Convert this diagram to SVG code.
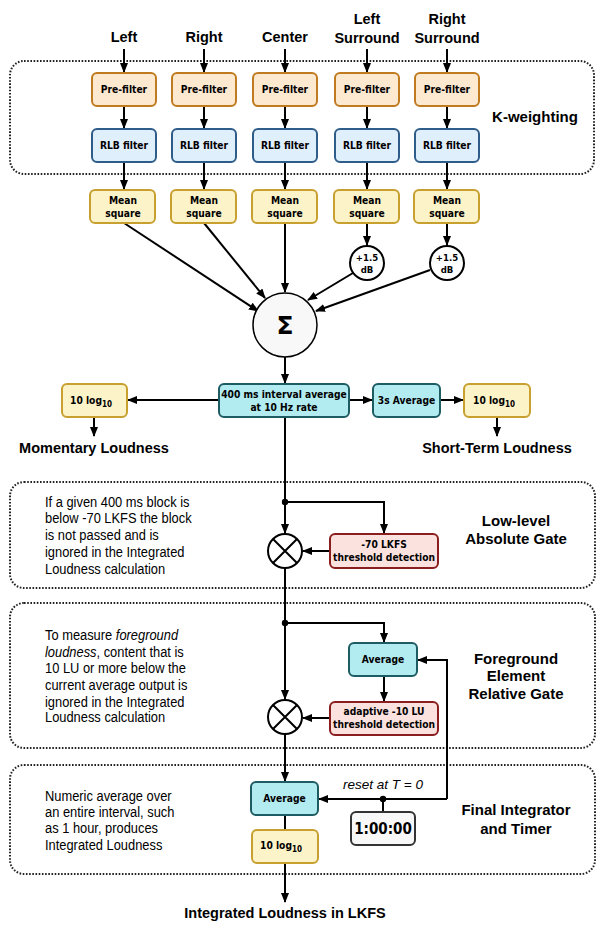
<svg xmlns="http://www.w3.org/2000/svg" width="600" height="935" viewBox="0 0 600 935">
<defs>
<marker id="ah" markerUnits="userSpaceOnUse" markerWidth="10" markerHeight="8" refX="9" refY="4" orient="auto">
<path d="M0,0 L10,4 L0,8 Z" fill="#000"/>
</marker>
<style>
.region{fill:none;stroke:#222;stroke-width:2;stroke-dasharray:1.6 1.6}
.box{stroke-width:2}
.pre{fill:#fde8d0;stroke:#c07a20}
.rlb{fill:#e0effc;stroke:#2f5d8a}
.ms{fill:#fdf3c8;stroke:#c8a030}
.teal{fill:#b2ebf0;stroke:#1d5c63}
.red{fill:#fbe2df;stroke:#8a1e1e}
.timer{fill:#f8f8f8;stroke:#333;stroke-width:2}
.circ{fill:#fff;stroke:#000;stroke-width:2}
.bl{font-family:"DejaVu Sans Condensed","DejaVu Sans",sans-serif;font-weight:bold;font-size:10.2px;text-anchor:middle;fill:#000}
.hd{font-family:"Liberation Sans",Arial,sans-serif;font-weight:bold;font-size:14.5px;text-anchor:middle;fill:#000}
.rg{font-family:"Liberation Sans",Arial,sans-serif;font-weight:bold;font-size:15px;text-anchor:middle;fill:#000}
.desc{font-family:"Liberation Sans",Arial,sans-serif;font-size:14px;fill:#000}
.conn path,.conn line{fill:none;stroke:#000;stroke-width:2}
</style>
</defs>
<rect width="600" height="935" fill="#fff"/>

<g id="regions">
<rect class="region" x="10" y="61" width="584" height="113" rx="14"/>
<rect class="region" x="10" y="482" width="585" height="106" rx="14"/>
<rect class="region" x="10" y="603" width="585" height="145" rx="14"/>
<rect class="region" x="10" y="765" width="585" height="109" rx="14"/>
<text class="rg" x="535" y="122">K-weighting</text>
<text class="rg" x="516" y="526">Low-level</text>
<text class="rg" x="516" y="544">Absolute Gate</text>
<text class="rg" x="516" y="664">Foreground</text>
<text class="rg" x="516" y="681">Element</text>
<text class="rg" x="516" y="699">Relative Gate</text>
<text class="rg" x="516" y="815">Final Integrator</text>
<text class="rg" x="516" y="834">and Timer</text>
</g>

<g id="inputs">
<text class="hd" x="124" y="42">Left</text>
<text class="hd" x="204" y="42">Right</text>
<text class="hd" x="285" y="42">Center</text>
<text class="hd" x="367" y="24">Left</text>
<text class="hd" x="367" y="43">Surround</text>
<text class="hd" x="447" y="24">Right</text>
<text class="hd" x="447" y="43">Surround</text>
</g>

<g id="connectors" class="conn">
<line x1="124" y1="49" x2="124" y2="72" marker-end="url(#ah)"/>
<line x1="204" y1="49" x2="204" y2="72" marker-end="url(#ah)"/>
<line x1="285" y1="49" x2="285" y2="72" marker-end="url(#ah)"/>
<line x1="367" y1="49" x2="367" y2="72" marker-end="url(#ah)"/>
<line x1="447" y1="49" x2="447" y2="72" marker-end="url(#ah)"/>
<line x1="124" y1="106" x2="124" y2="128" marker-end="url(#ah)"/>
<line x1="204" y1="106" x2="204" y2="128" marker-end="url(#ah)"/>
<line x1="285" y1="106" x2="285" y2="128" marker-end="url(#ah)"/>
<line x1="367" y1="106" x2="367" y2="128" marker-end="url(#ah)"/>
<line x1="447" y1="106" x2="447" y2="128" marker-end="url(#ah)"/>
<line x1="124" y1="162" x2="124" y2="189" marker-end="url(#ah)"/>
<line x1="204" y1="162" x2="204" y2="189" marker-end="url(#ah)"/>
<line x1="285" y1="162" x2="285" y2="189" marker-end="url(#ah)"/>
<line x1="367" y1="162" x2="367" y2="189" marker-end="url(#ah)"/>
<line x1="447" y1="162" x2="447" y2="189" marker-end="url(#ah)"/>
<line x1="124" y1="223" x2="258" y2="311" marker-end="url(#ah)"/>
<line x1="204" y1="223" x2="265" y2="298" marker-end="url(#ah)"/>
<line x1="285" y1="223" x2="285" y2="292" marker-end="url(#ah)"/>
<line x1="367" y1="223" x2="367" y2="245" marker-end="url(#ah)"/>
<line x1="447" y1="223" x2="447" y2="245" marker-end="url(#ah)"/>
<line x1="353" y1="273" x2="308" y2="300" marker-end="url(#ah)"/>
<line x1="430" y1="270" x2="316" y2="311" marker-end="url(#ah)"/>
<line x1="285" y1="357" x2="285" y2="383" marker-end="url(#ah)"/>
<line x1="219" y1="400" x2="128" y2="400" marker-end="url(#ah)"/>
<line x1="349" y1="400" x2="372" y2="400" marker-end="url(#ah)"/>
<line x1="440" y1="400" x2="463" y2="400" marker-end="url(#ah)"/>
<line x1="94" y1="417" x2="94" y2="436" marker-end="url(#ah)"/>
<line x1="497" y1="417" x2="497" y2="436" marker-end="url(#ah)"/>
<line x1="285" y1="417" x2="285" y2="533" marker-end="url(#ah)"/>
<path d="M285,502 H384 V533" marker-end="url(#ah)"/>
<line x1="330" y1="551" x2="303" y2="551" marker-end="url(#ah)"/>
<line x1="285" y1="568" x2="285" y2="699" marker-end="url(#ah)"/>
<path d="M285,623 H384 V642" marker-end="url(#ah)"/>
<line x1="384" y1="676" x2="384" y2="701" marker-end="url(#ah)"/>
<line x1="330" y1="718" x2="303" y2="718" marker-end="url(#ah)"/>
<line x1="285" y1="734" x2="285" y2="781" marker-end="url(#ah)"/>
<path d="M447,799 V660 H418" marker-end="url(#ah)"/>
<line x1="447" y1="799" x2="319" y2="799" marker-end="url(#ah)"/>
<line x1="383" y1="799" x2="383" y2="812"/>
<line x1="285" y1="815" x2="285" y2="830"/>
<line x1="285" y1="863" x2="285" y2="902" marker-end="url(#ah)"/>
<circle cx="285" cy="502" r="3.2" fill="#000"/>
<circle cx="285" cy="623" r="3.2" fill="#000"/>
<circle cx="383" cy="799" r="3.2" fill="#000"/>
</g>

<g id="prefilters">
<rect class="box pre" x="92" y="73" width="64" height="33" rx="5"/>
<rect class="box pre" x="172" y="73" width="64" height="33" rx="5"/>
<rect class="box pre" x="253" y="73" width="64" height="33" rx="5"/>
<rect class="box pre" x="335" y="73" width="64" height="33" rx="5"/>
<rect class="box pre" x="415" y="73" width="64" height="33" rx="5"/>
<text class="bl" x="124" y="93">Pre-filter</text>
<text class="bl" x="204" y="93">Pre-filter</text>
<text class="bl" x="285" y="93">Pre-filter</text>
<text class="bl" x="367" y="93">Pre-filter</text>
<text class="bl" x="447" y="93">Pre-filter</text>
</g>

<g id="rlbfilters">
<rect class="box rlb" x="92" y="129" width="64" height="33" rx="5"/>
<rect class="box rlb" x="172" y="129" width="64" height="33" rx="5"/>
<rect class="box rlb" x="253" y="129" width="64" height="33" rx="5"/>
<rect class="box rlb" x="335" y="129" width="64" height="33" rx="5"/>
<rect class="box rlb" x="415" y="129" width="64" height="33" rx="5"/>
<text class="bl" x="124" y="149">RLB filter</text>
<text class="bl" x="204" y="149">RLB filter</text>
<text class="bl" x="285" y="149">RLB filter</text>
<text class="bl" x="367" y="149">RLB filter</text>
<text class="bl" x="447" y="149">RLB filter</text>
</g>

<g id="meansquares">
<rect class="box ms" x="90" y="190" width="65" height="33" rx="5"/>
<rect class="box ms" x="171" y="190" width="65" height="33" rx="5"/>
<rect class="box ms" x="252" y="190" width="65" height="33" rx="5"/>
<rect class="box ms" x="334" y="190" width="65" height="33" rx="5"/>
<rect class="box ms" x="414" y="190" width="65" height="33" rx="5"/>
<text class="bl" x="123" y="204">Mean</text><text class="bl" x="123" y="217">square</text>
<text class="bl" x="204" y="204">Mean</text><text class="bl" x="204" y="217">square</text>
<text class="bl" x="285" y="204">Mean</text><text class="bl" x="285" y="217">square</text>
<text class="bl" x="367" y="204">Mean</text><text class="bl" x="367" y="217">square</text>
<text class="bl" x="447" y="204">Mean</text><text class="bl" x="447" y="217">square</text>
</g>

<g id="gains">
<circle class="circ" cx="367" cy="263" r="17"/>
<circle class="circ" cx="447" cy="263" r="17"/>
<text class="bl" x="367" y="261" style="font-size:9.5px">+1.5</text>
<text class="bl" x="367" y="273" style="font-size:9.5px">dB</text>
<text class="bl" x="447" y="261" style="font-size:9.5px">+1.5</text>
<text class="bl" x="447" y="273" style="font-size:9.5px">dB</text>
</g>

<g id="sum">
<circle cx="285" cy="325" r="32" fill="#f8f8f8" stroke="#000" stroke-width="1.5"/>
<text x="285" y="334" style="font-family:'DejaVu Sans',sans-serif;font-weight:bold;font-size:25px;text-anchor:middle">Σ</text>
</g>

<g id="interval">
<rect class="box teal" x="219" y="384" width="130" height="33" rx="5"/>
<text class="bl" x="284" y="398">400 ms interval average</text>
<text class="bl" x="284" y="411">at 10 Hz rate</text>
</g>
<g id="avg3s">
<rect class="box teal" x="373" y="384" width="67" height="33" rx="5"/>
<text class="bl" x="406.5" y="404">3s Average</text>
</g>
<g id="logM">
<rect class="box ms" x="62" y="384" width="65" height="33" rx="5"/>
<text class="bl" x="91" y="404">10 log<tspan dy="3" font-size="8">10</tspan></text>
</g>
<g id="logS">
<rect class="box ms" x="464" y="384" width="66" height="33" rx="5"/>
<text class="bl" x="494" y="404">10 log<tspan dy="3" font-size="8">10</tspan></text>
</g>
<g id="outputs">
<text class="hd" x="94" y="453">Momentary Loudness</text>
<text class="hd" x="497" y="453">Short-Term Loudness</text>
<text class="hd" x="285" y="918">Integrated Loudness in LKFS</text>
</g>

<g id="absgate">
<circle class="circ" cx="285" cy="551" r="17"/>
<path d="M273,539 L297,563 M297,539 L273,563" stroke="#000" stroke-width="2"/>
<rect class="box red" x="330" y="534" width="108" height="34" rx="5"/>
<text class="bl" x="384" y="548">-70 LKFS</text>
<text class="bl" x="384" y="561">threshold detection</text>
<g transform="translate(45,0) scale(0.92,1)">
<text class="desc" x="0" y="507">If a given 400 ms block is</text>
<text class="desc" x="0" y="523">below -70 LKFS the block</text>
<text class="desc" x="0" y="540">is not passed and is</text>
<text class="desc" x="0" y="557">ignored in the Integrated</text>
<text class="desc" x="0" y="574">Loudness calculation</text>
</g>
</g>

<g id="relgate">
<rect class="box teal" x="349" y="643" width="68" height="33" rx="5"/>
<text class="bl" x="383" y="663">Average</text>
<circle class="circ" cx="285" cy="717" r="17"/>
<path d="M273,705 L297,729 M297,705 L273,729" stroke="#000" stroke-width="2"/>
<rect class="box red" x="330" y="702" width="108" height="33" rx="5"/>
<text class="bl" x="384" y="715">adaptive -10 LU</text>
<text class="bl" x="384" y="728">threshold detection</text>
<g transform="translate(45,0) scale(0.92,1)">
<text class="desc" x="0" y="640">To measure <tspan font-style="italic">foreground</tspan></text>
<text class="desc" x="0" y="657"><tspan font-style="italic">loudness</tspan>, content that is</text>
<text class="desc" x="0" y="673">10 LU or more below the</text>
<text class="desc" x="0" y="690">current average output is</text>
<text class="desc" x="0" y="707">ignored in the Integrated</text>
<text class="desc" x="0" y="722">Loudness calculation</text>
</g>
</g>

<g id="integrator">
<rect class="box teal" x="251" y="782" width="67" height="33" rx="5"/>
<text class="bl" x="284.5" y="802">Average</text>
<rect class="box ms" x="252" y="830" width="66" height="33" rx="5"/>
<text class="bl" x="281" y="849">10 log<tspan dy="3" font-size="8">10</tspan></text>
<rect class="timer" x="351" y="812" width="64" height="33" rx="5"/>
<text x="383" y="834" style="font-family:'DejaVu Sans Condensed','DejaVu Sans',sans-serif;font-weight:bold;font-size:15px;text-anchor:middle">1:00:00</text>
<text class="desc" x="383" y="789" style="font-style:italic;text-anchor:middle;font-size:13.5px">reset at T = 0</text>
<g transform="translate(45,0) scale(0.92,1)">
<text class="desc" x="0" y="801">Numeric average over</text>
<text class="desc" x="0" y="817">an entire interval, such</text>
<text class="desc" x="0" y="833">as 1 hour, produces</text>
<text class="desc" x="0" y="850">Integrated Loudness</text>
</g>
</g>
</svg>
